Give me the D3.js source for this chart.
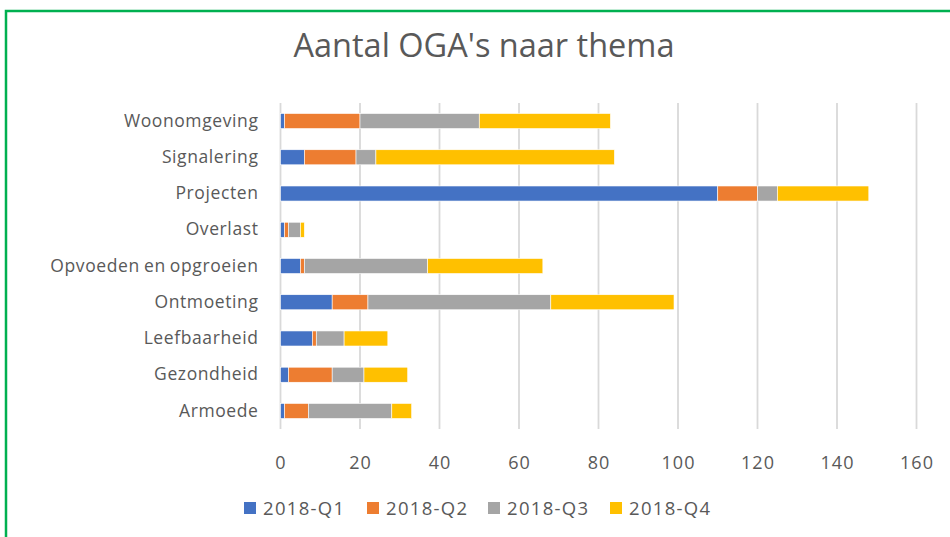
<!DOCTYPE html>
<html>
<head>
<meta charset="utf-8">
<script src="https://cdn.jsdelivr.net/npm/d3@7"></script>
<style>
  body { margin: 0; background: #fff; }
  text { font-family: "Open Sans", sans-serif; fill: #595959; }
</style>
</head>
<body>
<script>
const width = 950;
const height = 537;
const marginTop = 103;
const marginRight = 33.5;
const marginBottom = 108;
const marginLeft = 280.5;

// data
const categories = ["Woonomgeving", "Signalering", "Projecten", "Overlast", "Opvoeden en opgroeien",
  "Ontmoeting", "Leefbaarheid", "Gezondheid", "Armoede"];
const seriesNames = ["2018-Q1", "2018-Q2", "2018-Q3", "2018-Q4"];
const q1 = [1, 6, 110, 1, 5, 13, 8, 2, 1];
const q2 = [19, 13, 10, 1, 1, 9, 1, 11, 6];
const q3 = [30, 5, 5, 3, 31, 46, 7, 8, 21];
const q4 = [33, 60, 23, 1, 29, 31, 11, 11, 5];
const xTicks = [0, 20, 40, 60, 80, 100, 120, 140, 160];
const colors = ["#4472c4", "#ed7d31", "#a5a5a5", "#ffc000"];

const rows = categories.map((c, i) => ({
  cat: c, "2018-Q1": q1[i], "2018-Q2": q2[i], "2018-Q3": q3[i], "2018-Q4": q4[i]
}));
const stacked = d3.stack().keys(seriesNames)(rows);

const svg = d3.select("body").append("svg")
  .attr("width", width)
  .attr("height", height);

svg.append("rect")
  .attr("x", 6).attr("y", 11)
  .attr("width", 960).attr("height", 560)
  .attr("fill", "#fff")
  .attr("stroke", "#00b050")
  .attr("stroke-width", 2.5);

svg.append("text")
  .text("Aantal OGA's naar thema")
  .attr("x", 484)
  .attr("y", 57)
  .attr("text-anchor", "middle")
  .style("font-size", "32.5px");

const x = d3.scaleLinear()
  .domain([0, 160])
  .range([marginLeft, width - marginRight]);

const y = d3.scaleBand()
  .domain(categories)
  .range([marginTop, height - marginBottom])
  .paddingInner(0.585)
  .paddingOuter(0.29);

// gridlines
svg.append("g")
  .selectAll("line")
  .data(xTicks)
  .join("line")
  .attr("x1", d => x(d)).attr("x2", d => x(d))
  .attr("y1", marginTop).attr("y2", height - marginBottom)
  .attr("stroke", "#d9d9d9")
  .attr("stroke-width", 1.8);

svg.append("g")
  .selectAll("g")
  .data(stacked)
  .join("g")
  .attr("fill", (d, i) => colors[i])
  .selectAll("rect")
  .data(d => d)
  .join("rect")
  .attr("x", d => x(d[0]))
  .attr("y", d => y(d.data.cat))
  .attr("width", d => x(d[1]) - x(d[0]))
  .attr("height", y.bandwidth())
  .attr("stroke", "#fff")
  .attr("stroke-width", 0.6);

// x axis labels
const xAxis = svg.append("g")
  .attr("transform", `translate(0,${height - marginBottom})`)
  .call(d3.axisBottom(x).tickValues(xTicks).tickSize(0).tickPadding(27));
xAxis.select(".domain").remove();
xAxis.selectAll("text")
  .style("font-size", "18px").style("font-family", "Open Sans").style("letter-spacing", "1px")
  .attr("fill", "#595959");

// y axis labels
const yAxis = svg.append("g")
  .attr("transform", `translate(${marginLeft},0)`)
  .call(d3.axisLeft(y).tickSize(0).tickPadding(22));
yAxis.select(".domain").remove();
yAxis.selectAll("text")
  .style("font-size", "17.5px").style("font-family", "Open Sans")
  .style("letter-spacing", "0.6px").style("word-spacing", "-1px")
  .attr("fill", "#595959");

// legend
const legendX = [244, 367, 488, 610];
const legend = svg.append("g")
  .selectAll("g")
  .data(seriesNames)
  .join("g")
  .attr("transform", (d, i) => `translate(${legendX[i]},502)`);
legend.append("rect")
  .attr("width", 12).attr("height", 12)
  .attr("fill", (d, i) => colors[i]);
legend.append("text")
  .text(d => d)
  .attr("x", 19)
  .attr("y", 13)
  .style("font-size", "18.5px")
  .style("letter-spacing", "1.3px");
</script>
</body>
</html>
